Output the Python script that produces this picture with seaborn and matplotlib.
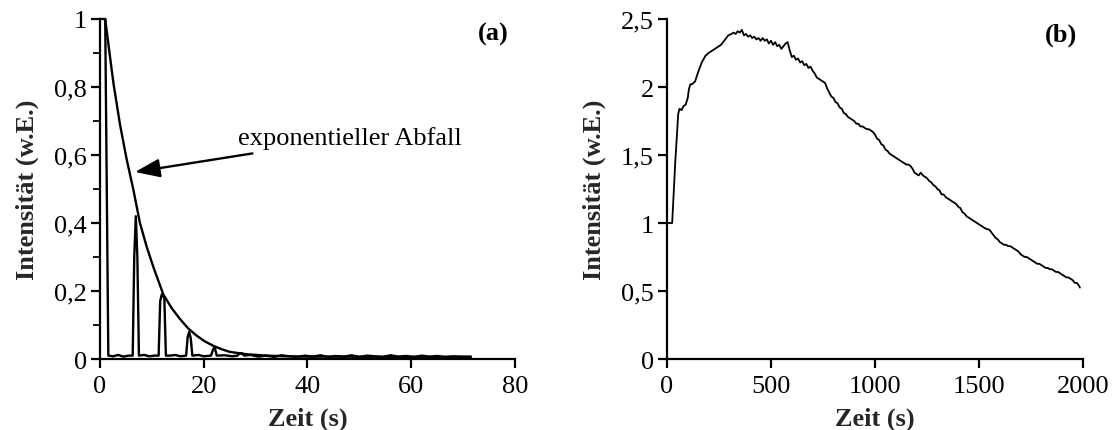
import numpy as np
import pandas as pd
import matplotlib
matplotlib.use("Agg")
import matplotlib.pyplot as plt
import seaborn as sns

# ---- Panel (a): pulse train and its exponential envelope ----
pulse_t = [0.0, 1.0, 1.6, 2.5, 3.5, 4.5, 5.5, 6.3, 6.6, 6.9,
           7.2, 7.5, 8.5, 9.5, 10.5, 11.3, 11.6, 11.9, 12.4, 12.7,
           13.5, 14.5, 15.5, 16.6, 16.9, 17.2, 17.5, 17.8, 19.0, 20.0,
           21.4, 21.8, 22.1, 22.5, 24.0, 25.5, 26.5, 26.9, 27.3, 27.8,
           29.0, 30.5, 32.0, 33.5, 35.0, 36.5, 38.0, 39.5, 41.0, 42.5,
           44.0, 45.5, 47.0, 48.5, 50.0, 51.5, 53.0, 54.5, 56.0, 57.5,
           59.0, 60.5, 62.0, 63.5, 65.0, 66.5, 68.0, 69.5, 71.5]
pulse_v = [1.0, 1.0, 0.010, 0.008, 0.012, 0.007, 0.010, 0.010, 0.30, 0.42,
           0.30, 0.010, 0.012, 0.008, 0.010, 0.010, 0.17, 0.19, 0.18, 0.010,
           0.010, 0.012, 0.008, 0.010, 0.065, 0.080, 0.060, 0.010, 0.012, 0.008,
           0.010, 0.028, 0.035, 0.010, 0.011, 0.008, 0.010, 0.016, 0.017, 0.010,
           0.012, 0.007, 0.010, 0.006, 0.011, 0.008, 0.006, 0.010, 0.007, 0.011,
           0.006, 0.009, 0.007, 0.011, 0.006, 0.010, 0.008, 0.006, 0.011, 0.007,
           0.009, 0.006, 0.010, 0.007, 0.009, 0.006, 0.008, 0.007, 0.007]

decay_t = [1.0, 2.0, 2.6, 3.85, 5.1, 6.4, 7.7, 9.0, 10.3, 12.2, 13.8, 15.4,
           17.0, 18.6, 20.2, 21.8, 23.4, 25.0, 28.3, 32.0, 36.0, 40.0, 71.5]
decay_v = [1.0, 0.88, 0.81, 0.69, 0.59, 0.50, 0.40, 0.33, 0.27, 0.19, 0.15,
           0.118, 0.090, 0.069, 0.052, 0.039, 0.029, 0.021, 0.014, 0.010,
           0.008, 0.007, 0.006]

# ---- Panel (b): long measurement ----
# start-up phase, irregular sampling
rise_t = [0, 20, 25, 40, 54, 60, 70, 80, 90, 100,
          105, 112, 120, 135, 150, 167, 185, 200, 220, 240,
          260, 280, 295, 310, 320, 330, 340, 350, 360, 370]
rise_v = [1.00, 1.00, 1.00, 1.45, 1.80, 1.84, 1.83, 1.86, 1.87, 1.92,
          1.98, 2.02, 2.02, 2.04, 2.11, 2.18, 2.23, 2.25, 2.27, 2.29,
          2.31, 2.35, 2.38, 2.39, 2.40, 2.39, 2.41, 2.40, 2.42, 2.38]
# decay phase, sampled every 10 s from 380 s to 1980 s, then the last point
fall_t = list(range(380, 1990, 10)) + [1985]
fall_v = [2.39, 2.37, 2.38, 2.36, 2.37, 2.35, 2.36, 2.34, 2.36, 2.34,
          2.35, 2.32, 2.34, 2.31, 2.33, 2.30, 2.31, 2.28, 2.30, 2.32,
          2.33, 2.27, 2.22, 2.23, 2.20, 2.21, 2.18, 2.19, 2.16, 2.17,
          2.14, 2.15, 2.12, 2.10, 2.07, 2.06, 2.05, 2.04, 2.03, 1.99,
          1.96, 1.93, 1.92, 1.89, 1.88, 1.85, 1.84, 1.81, 1.80, 1.78,
          1.77, 1.76, 1.75, 1.73, 1.73, 1.71, 1.71, 1.70, 1.69, 1.69,
          1.68, 1.67, 1.65, 1.62, 1.61, 1.58, 1.57, 1.54, 1.53, 1.51,
          1.50, 1.49, 1.48, 1.47, 1.46, 1.45, 1.44, 1.43, 1.43, 1.42,
          1.40, 1.37, 1.36, 1.35, 1.37, 1.35, 1.34, 1.33, 1.31, 1.30,
          1.28, 1.27, 1.25, 1.24, 1.21, 1.21, 1.19, 1.18, 1.17, 1.16,
          1.15, 1.14, 1.12, 1.11, 1.08, 1.07, 1.05, 1.04, 1.03, 1.02,
          1.01, 1.00, 0.99, 0.98, 0.97, 0.96, 0.955, 0.95, 0.93, 0.91,
          0.89, 0.88, 0.86, 0.85, 0.84, 0.84, 0.83, 0.83, 0.82, 0.81,
          0.80, 0.79, 0.77, 0.76, 0.75, 0.75, 0.74, 0.73, 0.72, 0.71,
          0.70, 0.70, 0.69, 0.68, 0.67, 0.67, 0.66, 0.66, 0.65, 0.64,
          0.64, 0.63, 0.62, 0.61, 0.60, 0.60, 0.59, 0.58, 0.56, 0.56,
          0.54, 0.525]

panel_a_label = "(a)"
panel_b_label = "(b)"
arrow_text = "exponentieller Abfall"
x_label = "Zeit (s)"
y_label = "Intensität (w.E.)"
ticks_a_x = [0, 20, 40, 60, 80]
ticks_a_y = [0, 0.2, 0.4, 0.6, 0.8, 1.0]
ticks_b_x = [0, 500, 1000, 1500, 2000]
ticks_b_y = [0, 0.5, 1.0, 1.5, 2.0, 2.5]

FS = 19

sns.set_theme(style="ticks")
plt.rcParams["font.family"] = ["Liberation Serif", "DejaVu Serif"]
plt.rcParams.update({
    "axes.linewidth": 1.6,
    "xtick.major.width": 1.6, "ytick.major.width": 1.6,
    "ytick.minor.width": 1.3,
    "xtick.major.size": 6.5, "ytick.major.size": 6.5, "ytick.minor.size": 5,
    "xtick.direction": "out", "ytick.direction": "out",
    "xtick.labelsize": FS, "ytick.labelsize": FS,
    "xtick.color": "black", "ytick.color": "black",
    "axes.edgecolor": "black", "text.color": "black",
})

fig = plt.figure(figsize=(11.2, 4.31), dpi=100)
ax_a = fig.add_axes([0.0893, 0.1647, 0.3705, 0.7889])
ax_b = fig.add_axes([0.5955, 0.1647, 0.3715, 0.7889])

df_pulse = pd.DataFrame({"t": pulse_t, "v": pulse_v})
df_decay = pd.DataFrame({"t": decay_t, "v": decay_v})
df_long = pd.DataFrame({"t": rise_t + fall_t, "v": rise_v + fall_v})

sns.lineplot(data=df_pulse, x="t", y="v", ax=ax_a, color="black", lw=1.7,
             estimator=None, sort=False, clip_on=False)
sns.lineplot(data=df_decay, x="t", y="v", ax=ax_a, color="black", lw=1.7,
             estimator=None, sort=False, clip_on=False)
sns.lineplot(data=df_long, x="t", y="v", ax=ax_b, color="black", lw=1.3,
             estimator=None, sort=False, clip_on=False)


def comma(v, _pos):
    return f"{v:g}".replace(".", ",")


for ax, xt, yt, xmax, ymax, tag in [
        (ax_a, ticks_a_x, ticks_a_y, 80, 1.0, panel_a_label),
        (ax_b, ticks_b_x, ticks_b_y, 2000, 2.5, panel_b_label)]:
    ax.set_xlim(0, xmax)
    ax.set_ylim(0, ymax)
    ax.set_xticks(xt)
    ax.set_yticks(yt)
    ax.yaxis.set_major_formatter(matplotlib.ticker.FuncFormatter(comma))
    ax.xaxis.set_major_formatter(matplotlib.ticker.FuncFormatter(comma))
    sns.despine(ax=ax)
    ax.set_xlabel(x_label, fontsize=FS, fontweight="bold", labelpad=7)
    ax.set_ylabel(y_label, fontsize=FS, fontweight="bold", labelpad=11)
    ax.text(0.985, 0.99, tag, transform=ax.transAxes, ha="right", va="top",
            fontsize=FS, fontweight="bold")
    ax.tick_params(axis="x", pad=5)
    ax.tick_params(axis="y", pad=3)

ax_a.yaxis.set_minor_locator(matplotlib.ticker.MultipleLocator(0.1))

ax_a.annotate(arrow_text, xy=(6.75, 0.55), xytext=(26.6, 0.65),
              fontsize=FS, ha="left", va="center",
              arrowprops=dict(arrowstyle="-|>,head_length=0.8,head_width=0.3",
                              color="black", lw=1.7, shrinkA=3, shrinkB=0))

fig.savefig("out.png", dpi=100, facecolor="white")
